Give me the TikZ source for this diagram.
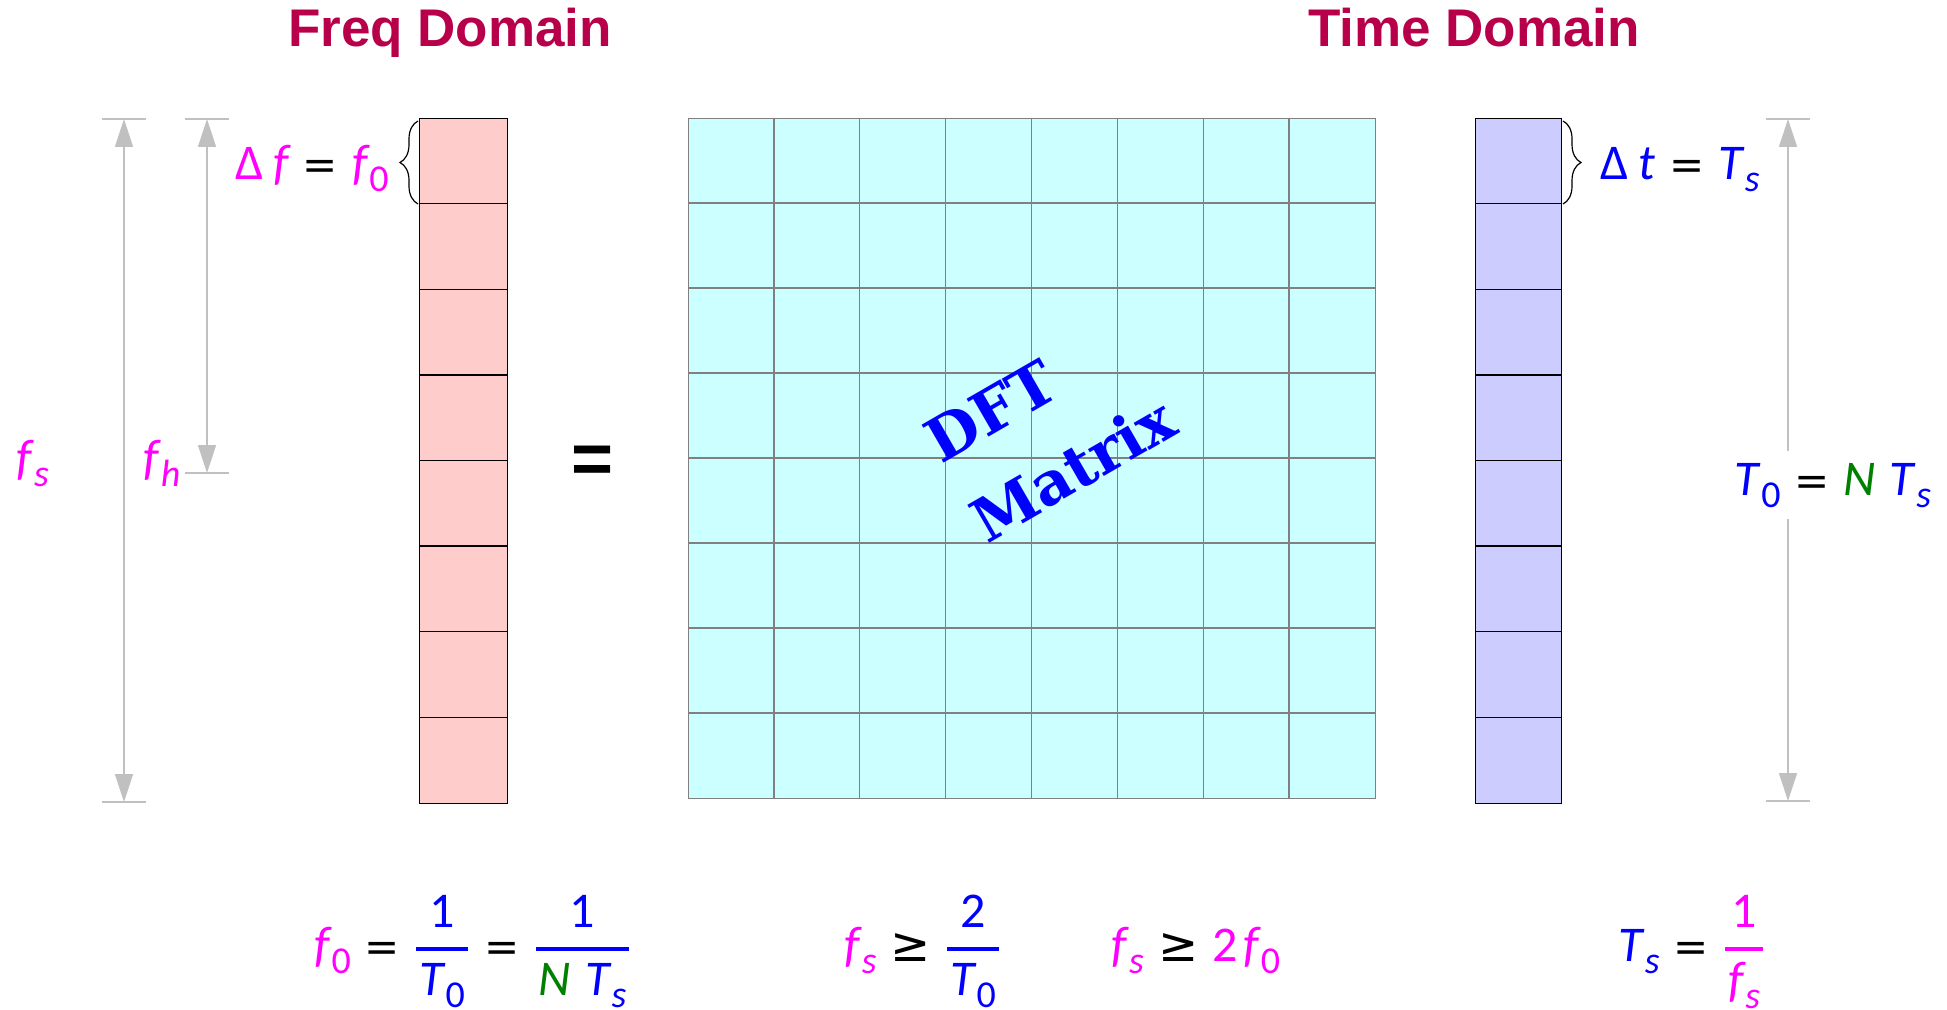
\documentclass[tikz,border=0pt]{standalone}
\usepackage{fontspec}
\usetikzlibrary{arrows.meta,decorations.pathreplacing}
\newfontfamily\mathf{Carlito}
\newfontfamily\symf{DejaVu Sans}
\newfontfamily\titlef{Liberation Sans}
\newfontfamily\dftf{DejaVu Serif}
\definecolor{mag}{RGB}{255,0,255}
\definecolor{blu}{RGB}{0,0,255}
\definecolor{grn}{RGB}{0,128,0}
\definecolor{ttl}{RGB}{184,0,74}
\definecolor{cyanfill}{RGB}{204,255,255}
\definecolor{pinkfill}{RGB}{255,204,204}
\definecolor{lavfill}{RGB}{204,204,255}
\definecolor{dimline}{RGB}{192,192,192}
\definecolor{gridline}{RGB}{128,128,128}
\newcommand\ssub[1]{\raisebox{-6pt}{\fontsize{19}{20}\selectfont #1}}
\newcommand\qv[3]{\textcolor{#1}{\itshape #2\kern1pt\ssub{#3}}}
\newcommand\vv[2]{\textcolor{#1}{\itshape #2}}
\newcommand\eqs{\hspace{7pt}{\symf\fontsize{21}{25}\selectfont =}\hspace{7pt}}
\newcommand\geqs{\hspace{7pt}{\symf\fontsize{24}{30}\selectfont ≥}\hspace{7pt}}
\newcommand\frc[3]{\textcolor{#1}{$\displaystyle{\hbox{\kern1.5pt#2\kern1.5pt}\above 2pt\hbox{\kern1.5pt#3\kern1.5pt}}$}}
\begin{document}
\begin{tikzpicture}[x=0.5pt,y=-0.5pt,
  eqn/.style={font=\mathf\fontsize{25}{30}\selectfont, inner sep=0pt, anchor=base},
  dim/.style={draw=dimline, line width=0.8pt, {Triangle[width=9pt,length=14pt]}-{Triangle[width=9pt,length=14pt]}},
  tick/.style={draw=dimline, line width=0.8pt},
  cellline/.style={draw=black, line width=0.7pt},
  gridl/.style={draw=gridline, line width=0.7pt},
  brc/.style={draw=black, line width=0.6pt, decorate, decoration={brace, amplitude=9pt}},
  ttitle/.style={font=\titlef\bfseries\fontsize{26.5}{30}\selectfont, text=ttl, anchor=base, inner sep=0pt}]

\useasboundingbox (0,0) rectangle (1947,1010);

% titles
\node[ttitle] (tf) at (450,47) {Freq Domain};
\node[ttitle] (tt) at (1474,47) {Time Domain};

% frequency column
\node[draw=black, line width=0.7pt, fill=pinkfill, minimum width=44pt, minimum height=342.5pt, inner sep=0pt, anchor=north west] (fcol) at (419,118) {};
\foreach \i in {1,...,7} \draw[cellline] (419,{118+\i*85.625}) -- (507,{118+\i*85.625});

% DFT matrix
\node[draw=gridline, line width=0.7pt, fill=cyanfill, minimum width=343.5pt, minimum height=340pt, inner sep=0pt, anchor=north west] (mat) at (688,118) {};
\foreach \i in {1,...,7} {
  \draw[gridl] (688,{118+\i*85}) -- (1375,{118+\i*85});
  \draw[gridl] ({688+\i*85.875},118) -- ({688+\i*85.875},798);
}

% time column
\node[draw=black, line width=0.7pt, fill=lavfill, minimum width=43pt, minimum height=342.5pt, inner sep=0pt, anchor=north west] (tcol) at (1475,118) {};
\foreach \i in {1,...,7} \draw[cellline] (1475,{118+\i*85.625}) -- (1561,{118+\i*85.625});

% dimension arrows
\coordinate (fsT) at (124,119); \coordinate (fsB) at (124,802);
\coordinate (fhT) at (207,119); \coordinate (fhB) at (207,473);
\coordinate (t0T) at (1788,119); \coordinate (t0B) at (1788,801);
\draw[tick] (102,119) -- (146,119);
\draw[tick] (102,802) -- (146,802);
\draw[tick] (185,119) -- (229,119);
\draw[tick] (185,473) -- (229,473);
\draw[tick] (1766,119) -- (1810,119);
\draw[tick] (1766,801) -- (1810,801);
\draw[dim] (fsT) -- (fsB);
\draw[dim] (fhT) -- (fhB);
\draw[dim] (t0T) -- (t0B);

% braces
\coordinate (b1s) at (418,204); \coordinate (b1e) at (418,121);
\coordinate (b2s) at (1563,121); \coordinate (b2e) at (1563,204);
\draw[brc] (b1s) -- (b1e);
\draw[brc] (b2s) -- (b2e);

% labels
\node[eqn] (ldf) at (312,180) {\textcolor{mag}{Δ\kern5pt\itshape f}\eqs\qv{mag}{f}{\upshape 0}};
\node[eqn] (ldt) at (1680,180) {\textcolor{blu}{Δ\kern5pt\itshape t}\eqs\qv{blu}{T}{s}};
\node[eqn] (lfs) at (33,474) {\qv{mag}{f}{s}};
\node[eqn] (lfh) at (162,474) {\qv{mag}{f}{h}};
\node[eqn, fill=white, inner xsep=2pt, inner ysep=6pt] (lt0) at (1833,495) {\qv{blu}{T}{\upshape 0}\eqs\vv{grn}{N}\kern7pt\qv{blu}{T}{s}};

% big equal sign
\node[font=\titlef\bfseries\fontsize{36}{40}\selectfont, inner sep=0pt] (eqbig) at (593,465) {=};

% DFT matrix label
\node[font=\dftf\bfseries\fontsize{30}{46}\selectfont, text=blu, align=left, rotate=30, inner sep=0pt] (dft) at (1050,430) {DFT\\Matrix};

% bottom formulas
\node[eqn] (e1) at (473,961) {\qv{mag}{f}{\upshape 0}\eqs\frc{blu}{\textcolor{blu}{1}}{\qv{blu}{T}{\upshape 0}}\eqs\frc{blu}{\textcolor{blu}{1}}{\vv{grn}{N}\kern7pt\qv{blu}{T}{s}}};
\node[eqn] (e2) at (923,961) {\qv{mag}{f}{s}\geqs\frc{blu}{\textcolor{blu}{2}}{\qv{blu}{T}{\upshape 0}}};
\node[eqn] (e3) at (1196,961) {\qv{mag}{f}{s}\geqs\textcolor{mag}{2\kern3pt}\qv{mag}{f}{\upshape 0}};
\node[eqn] (e4) at (1692,961) {\qv{blu}{T}{s}\eqs\frc{mag}{\textcolor{mag}{1}}{\qv{mag}{f}{s}}};
\end{tikzpicture}
\end{document}
